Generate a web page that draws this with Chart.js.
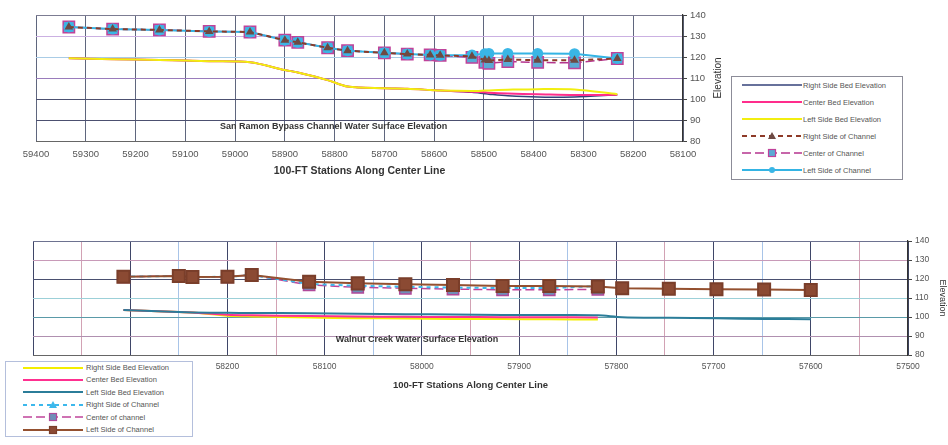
<!DOCTYPE html>
<html>
<head>
<meta charset="utf-8">
<script src="https://cdn.jsdelivr.net/npm/chart.js@4.4.1/dist/chart.umd.min.js"></script>
<style>
  body { margin: 0; background: #fff; width: 948px; height: 445px; position: relative; overflow: hidden; font-family: Arial, "Liberation Sans", sans-serif; }
  canvas { position: absolute; left: 0; }
  #sanRamon { top: 0; }
  #walnut { top: 225px; }
  .legend { position: absolute; background: #fff; box-sizing: border-box; }
  .legend .row { position: absolute; left: 0; display: flex; align-items: center; white-space: nowrap; font-size: 7.5px; }
  .legend .row span { color: #555; }
  .legend svg { display: block; }
  #legendTop { left: 731px; top: 76px; width: 172px; height: 104px; border: 1px solid #8c8c98; }
  #legendBottom { left: 5px; top: 361px; width: 188px; height: 76px; border: 1px solid #b4bfdc; }
</style>
</head>
<body>
<canvas id="sanRamon" width="740" height="185"></canvas>
<canvas id="walnut" width="948" height="175"></canvas>
<div class="legend" id="legendTop"></div>
<div class="legend" id="legendBottom"></div>
<script>
// San Ramon Bypass Channel: stations (ft) and elevations
const srStations = [59334, 59246, 59152, 59052, 58970, 58900, 58874, 58814, 58774, 58700, 58654, 58608, 58588, 58524, 58498, 58490, 58452, 58392, 58318, 58232];
const srRightBed  = [119.4, 118.9, 118.6, 118.0, 117.5, 113.8, 112.6, 109.0, 105.9, 105.1, 104.9, 104.3, 104.0, 103.2, 102.5, 102.3, 101.6, 101.0, 100.9, 102.0];
const srCenterBed = [119.4, 118.9, 118.6, 118.0, 117.5, 113.8, 112.6, 109.0, 105.9, 105.1, 104.9, 104.3, 104.0, 103.5, 103.2, 103.0, 102.6, 102.3, 101.9, 102.0];
const srLeftBed   = [119.4, 118.9, 118.6, 118.0, 117.5, 113.8, 112.6, 109.0, 105.9, 105.1, 104.9, 104.3, 104.0, 103.8, 104.0, 104.1, 104.4, 104.7, 104.5, 102.3];
const srRightChan  = [134.3, 133.3, 132.9, 132.2, 131.9, 128.0, 127.0, 124.4, 123.0, 122.0, 121.4, 121.0, 120.8, 120.3, 118.6, 118.3, 118.8, 118.5, 118.4, 119.3];
const srCenterChan = [134.3, 133.3, 132.9, 132.2, 131.9, 128.0, 127.0, 124.4, 123.0, 122.0, 121.4, 121.0, 120.8, 119.8, 117.5, 117.0, 117.8, 117.4, 117.2, 119.3];
const srLeftChan   = [134.3, 133.3, 132.9, 132.2, 131.9, 128.0, 127.0, 124.4, 123.0, 122.0, 121.4, 121.0, 120.8, 121.0, 121.6, 121.7, 121.7, 121.7, 121.6, 119.3];

// Walnut Creek: stations (ft) and elevations
const wcStations = [58307, 58250, 58236, 58200, 58175, 58116, 58066, 58017, 57968, 57917, 57869, 57819, 57794, 57746, 57697, 57648, 57600];
const wcRightBed  = [103.7, 102.6, 102.4, 100.7, 100.3, 99.7, 99.4, 99.2, 99.0, 98.9, 98.8, 98.7];
const wcCenterBed = [103.7, 102.6, 102.4, 101.2, 100.9, 100.5, 100.3, 100.1, 100.0, 99.9, 99.9, 99.8];
const wcLeftBed   = [103.7, 102.6, 102.4, 102.2, 102.1, 102.0, 101.7, 101.5, 101.3, 101.1, 101.0, 100.9, 99.9, 99.6, 99.3, 99.0, 98.8];
const wcRightChan  = [121.2, 121.6, 121.0, 121.2, 122.1, 117.4, 116.4, 115.9, 115.5, 115.2, 115.2, 116.3];
const wcCenterChan = [121.2, 121.6, 121.0, 121.2, 122.1, 116.9, 115.6, 115.1, 114.7, 114.3, 114.3, 114.6];
const wcLeftChan   = [121.2, 121.6, 121.0, 121.2, 122.1, 118.6, 117.7, 117.2, 116.8, 116.3, 116.3, 116.0, 115.1, 114.9, 114.6, 114.5, 114.2];

// axis ticks
const elevTicks = [80, 90, 100, 110, 120, 130, 140];
const srStationRange = [58100, 59400];
const wcStationRange = [57500, 58400];

Chart.defaults.font.family = 'Arial, "Liberation Sans", sans-serif';
Chart.defaults.color = '#555';

function series(label, xs, ys, style) {
  return Object.assign({
    label: label,
    data: ys.map((y, i) => ({ x: xs[i], y: y })),
    showLine: true,
    fill: false,
    pointRadius: 0,
    tension: 0
  }, style);
}

// caption inside the plot and an optional upward side title
const captions = {
  id: 'captions',
  afterDatasetsDraw(chart, args, opts) {
    const { ctx, chartArea, scales } = chart;
    ctx.save();
    ctx.fillStyle = '#333';
    ctx.textAlign = 'center';
    ctx.textBaseline = 'middle';
    if (opts.text) {
      ctx.font = 'bold 9px Arial, "Liberation Sans", sans-serif';
      ctx.fillText(opts.text, scales.x.getPixelForValue(opts.at[0]), scales.y.getPixelForValue(opts.at[1]));
    }
    if (opts.sideTitle) {
      ctx.font = '10px Arial, "Liberation Sans", sans-serif';
      ctx.translate(scales.y.left + opts.sideOffset, (chartArea.top + chartArea.bottom) / 2);
      ctx.rotate(-Math.PI / 2);
      ctx.fillText(opts.sideTitle, 0, 0);
    }
    ctx.restore();
  }
};

function makeOptions(cfg) {
  return {
    responsive: false,
    animation: false,
    layout: { padding: cfg.padding },
    plugins: {
      legend: { display: false },
      tooltip: { enabled: false },
      captions: cfg.captions
    },
    scales: {
      x: {
        type: 'linear',
        reverse: true,
        min: cfg.range[0],
        max: cfg.range[1],
        afterFit: s => { s.height = 36; },
        afterBuildTicks: s => { s.ticks = cfg.xTicks.map(v => ({ value: v })); },
        ticks: {
          autoSkip: false,
          maxRotation: 0,
          padding: cfg.xPad,
          font: { size: cfg.tickSize },
          color: '#555',
          callback: v => (v % 100 === 0 ? String(v) : '')
        },
        grid: { color: cfg.xGrid, drawTicks: false },
        border: { display: true, color: '#666' },
        title: {
          display: true,
          text: '100-FT Stations Along Center Line',
          color: '#333',
          font: { size: cfg.titleSize, weight: 'bold' },
          padding: 0
        }
      },
      y: {
        type: 'linear',
        position: 'right',
        min: 80,
        max: 140,
        afterFit: s => { s.width = cfg.yWidth; },
        afterBuildTicks: s => { s.ticks = elevTicks.map(v => ({ value: v })); },
        ticks: { padding: 3, font: { size: cfg.tickSize }, color: '#555' },
        grid: { color: cfg.yGrid, tickLength: 4, tickColor: '#444' },
        border: { display: true, color: '#333', width: 1.2 },
        title: cfg.yTitle
      }
    }
  };
}

function stepTicks(range, step) {
  const out = [];
  for (let v = range[0]; v <= range[1]; v += step) out.push(v);
  return out;
}

// San Ramon chart
const srGridY = { 140: '#7c7c92', 130: '#cbb0e2', 120: '#a9cce6', 110: '#9a7cbc', 100: '#4c5070', 90: '#4c5070', 80: '#555' };
const sanRamon = new Chart(document.getElementById('sanRamon'), {
  type: 'scatter',
  data: {
    datasets: [
      series('Right Side Bed Elevation', srStations, srRightBed, { borderColor: '#34427a', borderWidth: 1.5, tension: 0.3, order: 10 }),
      series('Center Bed Elevation', srStations, srCenterBed, { borderColor: '#ff2d8c', borderWidth: 2, tension: 0.3, order: 9 }),
      series('Left Side Bed Elevation', srStations, srLeftBed, { borderColor: '#f2ee10', borderWidth: 2, tension: 0.3, order: 8 }),
      series('Right Side of Channel', srStations, srRightChan, {
        borderColor: '#8e3a28', borderWidth: 2, borderDash: [5, 4],
        pointStyle: 'triangle', pointRadius: 3, pointBackgroundColor: '#6e4a44', pointBorderColor: '#6e4a44', order: 5
      }),
      series('Center of Channel', srStations, srCenterChan, {
        borderColor: '#b5358e', borderWidth: 1.5, borderDash: [9, 4],
        pointStyle: 'rect', pointRadius: 8, pointBackgroundColor: '#5aaad4', pointBorderColor: '#c0429a', pointBorderWidth: 1.5, order: 7
      }),
      series('Left Side of Channel', srStations, srLeftChan, {
        borderColor: '#34b4e4', borderWidth: 2,
        pointStyle: 'circle', pointRadius: 4.5, pointBackgroundColor: '#3ab6e6', pointBorderColor: '#3ab6e6', order: 6
      })
    ]
  },
  options: makeOptions({
    padding: { left: 36, top: 15, right: 0, bottom: 8 },
    range: srStationRange,
    xTicks: stepTicks(srStationRange, 100),
    xPad: 8,
    tickSize: 9.5,
    titleSize: 10.5,
    yWidth: 57,
    xGrid: '#5f667e',
    yGrid: c => srGridY[c.tick.value] || '#666',
    yTitle: { display: false },
    captions: { text: 'San Ramon Bypass Channel Water Surface Elevation', at: [58802, 87.1], sideTitle: 'Elevation', sideOffset: 35 }
  }),
  plugins: [captions]
});

// Walnut Creek chart
const wcGridY = { 140: '#6d7290', 130: '#c89ab8', 120: '#4a5070', 110: '#9cd0d8', 100: '#5a9aa8', 90: '#b090b0', 80: '#444' };
const walnut = new Chart(document.getElementById('walnut'), {
  type: 'scatter',
  data: {
    datasets: [
      series('Right Side Bed Elevation', wcStations, wcRightBed, { borderColor: '#f4ee00', borderWidth: 2, tension: 0.3, order: 10 }),
      series('Center Bed Elevation', wcStations, wcCenterBed, { borderColor: '#ff3090', borderWidth: 2, tension: 0.3, order: 9 }),
      series('Left Side  Bed Elevation', wcStations, wcLeftBed, { borderColor: '#2b7d99', borderWidth: 2, tension: 0.3, order: 8 }),
      series('Right Side of Channel', wcStations, wcRightChan, {
        borderColor: '#3cb8ec', borderWidth: 2, borderDash: [4, 4],
        pointStyle: 'triangle', pointRadius: 4, pointBackgroundColor: '#3cb8ec', pointBorderColor: '#3cb8ec', order: 6
      }),
      series('Center of channel', wcStations, wcCenterChan, {
        borderColor: '#c0449a', borderWidth: 1.5, borderDash: [9, 4],
        pointStyle: 'rect', pointRadius: 8, pointBackgroundColor: '#6f8fb8', pointBorderColor: '#b04a9a', pointBorderWidth: 1.5, order: 7
      }),
      series('Left Side of Channel', wcStations, wcLeftChan, {
        borderColor: '#94502f', borderWidth: 2,
        pointStyle: 'rect', pointRadius: 8.5, pointBackgroundColor: '#8b4a33', pointBorderColor: '#7a3e2a', order: 5
      })
    ]
  },
  options: makeOptions({
    padding: { left: 33, top: 16, right: 0, bottom: 9 },
    range: wcStationRange,
    xTicks: stepTicks(wcStationRange, 50),
    xPad: 7,
    tickSize: 8.5,
    titleSize: 9.5,
    yWidth: 40,
    xGrid: c => (c.tick.value % 100 === 0 ? '#3f4668' : (c.index % 4 === 1 ? '#d2a2b4' : '#a8c4e8')),
    yGrid: c => wcGridY[c.tick.value] || '#666',
    yTitle: { display: true, text: 'Elevation', color: '#333', font: { size: 9 }, padding: 0 },
    captions: { text: 'Walnut Creek Water Surface Elevation', at: [58005, 88.4] }
  }),
  plugins: [captions]
});

// legend boxes built from the chart datasets
function sampleSvg(ds, w, h) {
  const mid = h / 2;
  const dash = ds.borderDash ? ` stroke-dasharray="${ds.borderDash.join(' ')}"` : '';
  let s = `<svg width="${w}" height="${h}"><line x1="0" y1="${mid}" x2="${w}" y2="${mid}" stroke="${ds.borderColor}" stroke-width="${ds.borderWidth}"${dash}/>`;
  const cx = w / 2;
  if (ds.pointRadius > 0) {
    const fillC = ds.pointBackgroundColor, edge = ds.pointBorderColor;
    if (ds.pointStyle === 'circle') {
      s += `<circle cx="${cx}" cy="${mid}" r="3" fill="${fillC}"/>`;
    } else if (ds.pointStyle === 'rect') {
      s += `<rect x="${cx - 3.5}" y="${mid - 3.5}" width="7" height="7" fill="${fillC}" stroke="${edge}" stroke-width="1.2"/>`;
    } else if (ds.pointStyle === 'triangle') {
      s += `<polygon points="${cx},${mid - 4} ${cx - 4},${mid + 3} ${cx + 4},${mid + 3}" fill="${fillC}"/>`;
    }
  }
  return s + '</svg>';
}

function buildLegend(chart, boxId, lay) {
  const box = document.getElementById(boxId);
  chart.data.datasets.forEach((ds, i) => {
    const row = document.createElement('div');
    row.className = 'row';
    row.style.top = (lay.first + i * lay.step - 5) + 'px';
    row.style.height = '10px';
    row.style.paddingLeft = lay.indent + 'px';
    row.innerHTML = sampleSvg(ds, lay.sample, 10) + `<span style="margin-left:${lay.gap}px">${ds.label}</span>`;
    box.appendChild(row);
  });
}

buildLegend(sanRamon, 'legendTop', { first: 8, step: 17, indent: 10, sample: 60, gap: 1 });
buildLegend(walnut, 'legendBottom', { first: 5.5, step: 12.4, indent: 17, sample: 60, gap: 3 });
</script>
</body>
</html>
